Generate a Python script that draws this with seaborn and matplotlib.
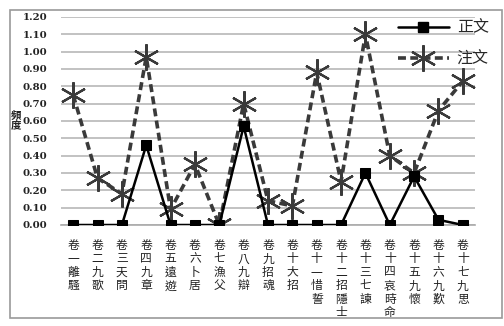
import matplotlib
matplotlib.use("Agg")
import matplotlib.pyplot as plt
import seaborn as sns
import pandas as pd
import numpy as np
from matplotlib.patches import Rectangle
from matplotlib.lines import Line2D

# 楚辭各卷 (volumes)
volumes = ["卷一離騷", "卷二九歌", "卷三天問", "卷四九章", "卷五遠遊", "卷六卜居",
           "卷七漁父", "卷八九辯", "卷九招魂", "卷十大招", "卷十一惜誓", "卷十二招隱士",
           "卷十三七諫", "卷十四哀時命", "卷十五九懷", "卷十六九歎", "卷十七九思"]
zhengwen = [0.00, 0.00, 0.00, 0.46, 0.00, 0.00, 0.00, 0.57, 0.00, 0.00, 0.00, 0.00,
            0.30, 0.00, 0.28, 0.03, 0.00]
zhuwen = [0.75, 0.27, 0.18, 0.97, 0.09, 0.35, 0.00, 0.70, 0.14, 0.11, 0.88, 0.25,
          1.10, 0.40, 0.30, 0.66, 0.83]
yticks = [round(0.1 * i, 2) for i in range(13)]

sns.set_theme(style="white")
plt.rcParams["font.family"] = ["Noto Sans CJK TC", "DejaVu Sans"]

W, H = 504, 326
fig = plt.figure(figsize=(W / 100, H / 100), dpi=100)
ax = fig.add_axes([61 / W, 1 - 225 / H, (475 - 61) / W, (225 - 17) / H])

df = pd.DataFrame({"pos": np.arange(len(volumes)), "正文": zhengwen, "注文": zhuwen})

asterisk = (6, 2, 0)
sns.lineplot(data=df, x="pos", y="注文", ax=ax, color="#3a3a3a", lw=2.6,
             linestyle=(0, (2.2, 1.2)), marker=asterisk, markersize=19,
             markeredgewidth=1.6, markeredgecolor="#3a3a3a", zorder=3)
sns.lineplot(data=df, x="pos", y="正文", ax=ax, color="black", lw=1.8,
             marker="s", markersize=7, markeredgecolor="black", zorder=4)

ax.set_xlim(-0.5, len(volumes) - 0.5)
ax.set_ylim(0, 1.2)
ax.set_yticks(yticks)
ax.set_yticklabels([f"{v:.2f}" for v in yticks], fontsize=7.3,
                   family=["DejaVu Serif"], fontweight="bold", color="#222222")
ax.set_xticks(np.arange(len(volumes)))
ax.set_xticklabels(["\n".join(v) for v in volumes], fontsize=8.5,
                   linespacing=1.05, va="top", color="#222222")
ax.tick_params(axis="x", length=0, pad=10)
ax.tick_params(axis="y", length=0, pad=10)
ax.set_xlabel("")
ax.set_ylabel("")
ax.grid(axis="y", color="#bdbdbd", lw=1.3)
for s in ["top", "right", "left"]:
    ax.spines[s].set_visible(False)
ax.spines["bottom"].set_color("#aaaaaa")
ax.spines["bottom"].set_linewidth(1.2)

fig.text(16 / W, 1 - 121 / H, "頻\n度", fontsize=7.5, fontweight="bold",
         ha="center", va="center", linespacing=0.95, color="#222222")

# outer chart frame
fig.patches.append(Rectangle((10 / W, 1 - 318 / H), (502 - 10) / W, (318 - 10) / H,
                             transform=fig.transFigure, fill=False,
                             edgecolor="#9a9a9a", lw=1.2))

handles = [
    Line2D([], [], color="black", lw=1.8, marker="s", markersize=7),
    Line2D([], [], color="#3a3a3a", lw=2.6, linestyle=(0, (2.2, 1.2)),
           marker=asterisk, markersize=19, markeredgewidth=1.6),
]
fig.legend(handles, ["正文", "注文"], loc="upper right",
           bbox_to_anchor=(503 / W, 1 - 5 / H), frameon=False, fontsize=11.5,
           handlelength=3.2, handletextpad=0.5, labelspacing=0.9)

fig.savefig("out.png", dpi=100, facecolor="white")
